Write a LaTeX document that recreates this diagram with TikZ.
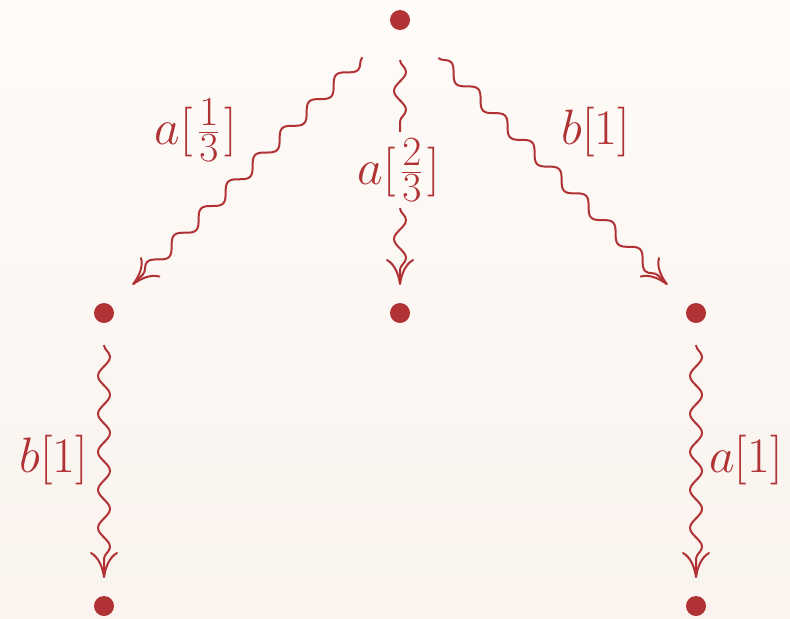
\documentclass[tikz,border=0pt]{standalone}
\usetikzlibrary{decorations.pathmorphing,arrows.meta,calc}
\definecolor{ink}{RGB}{176,50,52}
\definecolor{bgtop}{RGB}{254,251,248}
\definecolor{bgbot}{RGB}{250,243,238}
\begin{document}
\begin{tikzpicture}[x=0.5pt,y=-0.5pt,
  font=\fontsize{24.88}{30}\selectfont,
  dot/.style={circle,fill=ink,inner sep=0pt,minimum size=10pt},
  wavy/.style={draw=ink,line width=1pt,decorate,
    decoration={snake,amplitude=3pt,segment length=19pt,post length=4pt},
    -{Computer Modern Rightarrow[length=13pt,width=14pt,line width=1pt]}},
  lbl/.style={text=ink,inner sep=1pt}]
\shade[top color=bgtop,bottom color=bgbot] (0,0) rectangle (790,618);
\useasboundingbox (0,0) rectangle (790,618);
\node[dot] (t) at (400,20) {};
\node[dot] (l) at (104,313) {};
\node[dot] (m) at (400,313) {};
\node[dot] (r) at (696,313) {};
\node[dot] (bl) at (104,606) {};
\node[dot] (br) at (696,606) {};
\node[lbl] (la) at (196,130) {$a[\mkern1.5mu\frac{1}{3}\mkern1.5mu]$};
\node[lbl,inner ysep=3pt] (lm) at (399,170) {$a[\mkern1.5mu\frac{2}{3}\mkern1.5mu]$};
\node[lbl] (lr) at (596,132) {$b[1]$};
\node[lbl] (lbl1) at (54,460) {$b[1]$};
\node[lbl] (lbr) at (746,460) {$a[1]$};
\draw[wavy] ($(t.center)!26.5pt!(l.center)$) coordinate (s1) -- ($(l.center)!20pt!(t.center)$) coordinate (e1);
\draw[wavy,-] ($(t.center)!20pt!(m.center)$) coordinate (s2) -- (s2 |- lm.north);
\draw[wavy] (s2 |- lm.south) -- ($(m.center)!14pt!(t.center)$) coordinate (e2);
\draw[wavy] ($(t.center)!27pt!(r.center)$) coordinate (s3) -- ($(r.center)!20pt!(t.center)$) coordinate (e3);
\draw[wavy] ($(l.center)!16pt!(bl.center)$) coordinate (s4) -- ($(bl.center)!14pt!(l.center)$) coordinate (e4);
\draw[wavy] ($(r.center)!16pt!(br.center)$) coordinate (s5) -- ($(br.center)!14pt!(r.center)$) coordinate (e5);
\end{tikzpicture}
\end{document}
